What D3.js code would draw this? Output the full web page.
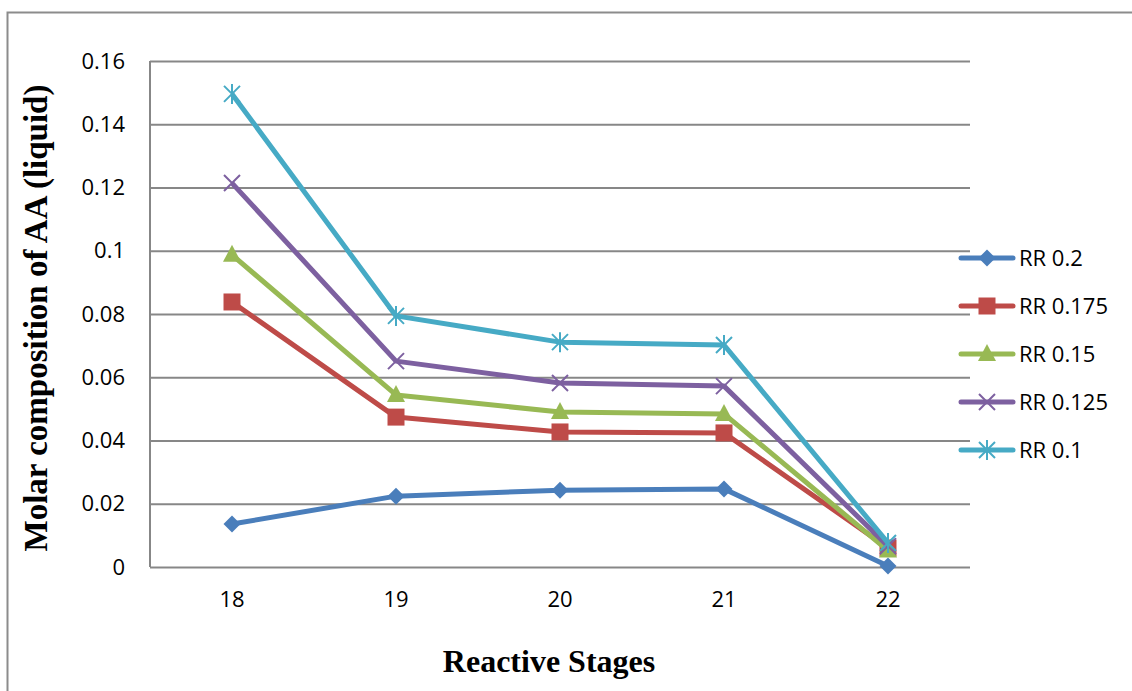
<!DOCTYPE html>
<html>
<head>
<meta charset="utf-8">
<script src="https://cdn.jsdelivr.net/npm/d3@7"></script>
<style>
body { margin: 0; background: #fff; }
svg { display: block; }
</style>
</head>
<body>
<svg id="chart"></svg>
<script>
var width = 1132;
var height = 691;

var stages = ["18", "19", "20", "21", "22"];
var yTicks = [0, 0.02, 0.04, 0.06, 0.08, 0.1, 0.12, 0.14, 0.16];
var seriesNames = ["RR 0.2", "RR 0.175", "RR 0.15", "RR 0.125", "RR 0.1"];
var rr02 = [0.0136, 0.0224, 0.0243, 0.0247, 0.0003];
var rr0175 = [0.0838, 0.0474, 0.0427, 0.0424, 0.0060];
var rr015 = [0.0987, 0.0544, 0.0490, 0.0484, 0.0052];
var rr0125 = [0.1214, 0.0651, 0.0582, 0.0572, 0.0066];
var rr01 = [0.1496, 0.0794, 0.0711, 0.0702, 0.0076];
var colors = ["#4a7ebb", "#be4b48", "#98b954", "#7d60a0", "#46aac5"];
var markers = ["diamond", "square", "triangle", "x", "star"];

var seriesValues = [rr02, rr0175, rr015, rr0125, rr01];

var plotLeft = 150, plotRight = 970, plotTop = 61, plotBottom = 567;

var svg = d3.select("#chart")
.attr("width", width)
.attr("height", height);

// outer frame
svg.append("rect")
.attr("x", 7.5)
.attr("y", 12.5)
.attr("width", width)
.attr("height", height)
.attr("fill", "none")
.attr("stroke", "#8c8c8c")
.attr("stroke-width", 2);

var x = d3.scaleBand()
.domain(stages)
.range([plotLeft, plotRight]);

var y = d3.scaleLinear()
.domain([0, 0.16])
.range([plotBottom, plotTop]);

// gridlines
var grid = d3.axisLeft(y)
.tickValues(yTicks)
.tickSize(-(plotRight - plotLeft))
.tickFormat("");

svg.append("g")
.attr("transform", "translate(" + plotLeft + ",0)")
.call(grid)
.call(function (g) {
	g.select(".domain").remove();
	g.selectAll("line").attr("stroke", "#878787").attr("stroke-width", 2);
});

// left axis line
svg.append("line")
.attr("x1", plotLeft).attr("x2", plotLeft)
.attr("y1", plotTop).attr("y2", plotBottom)
.attr("stroke", "#878787")
.attr("stroke-width", 2);

// y tick labels
var yAxis = d3.axisLeft(y)
.tickValues(yTicks)
.tickSize(0)
.tickPadding(25)
.tickFormat(function (d) { return d === 0 ? "0" : String(+d.toFixed(2)); });

svg.append("g")
.attr("transform", "translate(" + plotLeft + ",0)")
.call(yAxis)
.call(function (g) {
	g.select(".domain").remove();
	g.selectAll("text")
	.attr("fill", "#000")
	.style("font-family", "'Open Sans', sans-serif")
	.style("font-size", "22px");
});

// x tick labels
var xAxis = d3.axisBottom(x)
.tickSize(0)
.tickPadding(24);

svg.append("g")
.attr("transform", "translate(0," + plotBottom + ")")
.call(xAxis)
.call(function (g) {
	g.select(".domain").remove();
	g.selectAll("text")
	.attr("fill", "#000")
	.style("font-family", "'Open Sans', sans-serif")
	.style("font-size", "22px");
});

// axis titles
svg.append("text")
.attr("x", 549)
.attr("y", 672)
.attr("text-anchor", "middle")
.style("font-family", "'Liberation Serif', serif")
.style("font-weight", "bold")
.style("font-size", "32px")
.text("Reactive Stages");

svg.append("text")
.attr("transform", "translate(47,318) rotate(-90)")
.attr("text-anchor", "middle")
.style("font-family", "'Liberation Serif', serif")
.style("font-weight", "bold")
.style("font-size", "33px")
.text("Molar composition of AA (liquid)");

function markerPath (type) {
	if (type == "diamond")
		return "M0,-8.5L8.5,0L0,8.5L-8.5,0Z";
	if (type == "square")
		return "M-8.5,-8.5H8.5V8.5H-8.5Z";
	if (type == "triangle")
		return "M0,-10L9,7H-9Z";
	if (type == "x")
		return "M-8,-8L8,8M-8,8L8,-8";
	return "M-8,-8L8,8M-8,8L8,-8M0,-10V10";
}

function drawMarker (g, type, color, cx, cy) {
	var filled = (type == "diamond" || type == "square" || type == "triangle");
	g.append("path")
	.attr("d", markerPath(type))
	.attr("transform", "translate(" + cx + "," + cy + ")")
	.attr("fill", filled ? color : "none")
	.attr("stroke", color)
	.attr("stroke-width", filled ? 0 : 2);
}

var line = d3.line()
.x(function (d, i) { return x(stages[i]) + x.bandwidth() / 2; })
.y(function (d) { return y(d); });

seriesValues.forEach(function (vals, s) {
	var g = svg.append("g");
	g.append("path")
	.attr("d", line(vals))
	.attr("fill", "none")
	.attr("stroke", colors[s])
	.attr("stroke-width", 5)
	.attr("stroke-linejoin", "round");

	vals.forEach(function (v, i) {
		drawMarker(g, markers[s], colors[s], x(stages[i]) + x.bandwidth() / 2, y(v));
	});
});

// legend
var legendY = d3.scalePoint()
.domain(seriesNames)
.range([258, 450]);

seriesNames.forEach(function (name, s) {
	var g = svg.append("g");
	var ly = legendY(name);
	g.append("line")
	.attr("x1", 961).attr("x2", 1013)
	.attr("y1", ly).attr("y2", ly)
	.attr("stroke", colors[s])
	.attr("stroke-width", 5)
	.attr("stroke-linecap", "round");
	drawMarker(g, markers[s], colors[s], 987, ly);
	g.append("text")
	.attr("x", 1019)
	.attr("y", ly)
	.attr("dy", "0.35em")
	.style("font-family", "'Open Sans', sans-serif")
	.style("font-size", "22px")
	.text(name);
});
</script>
</body>
</html>
